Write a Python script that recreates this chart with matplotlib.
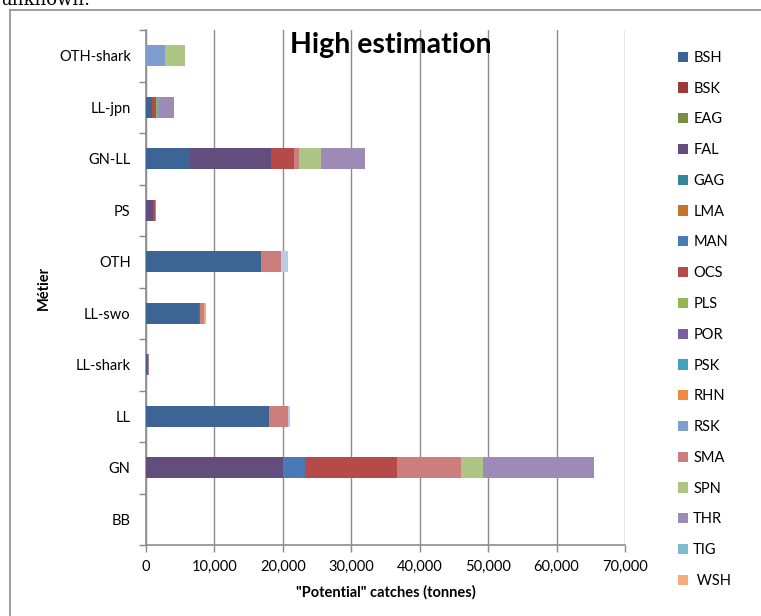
import matplotlib
matplotlib.use("Agg")
import matplotlib.pyplot as plt
from matplotlib.patches import Patch
from matplotlib.lines import Line2D
import numpy as np

categories = ["BB", "GN", "LL", "LL-shark", "LL-swo", "OTH", "PS", "GN-LL", "LL-jpn", "OTH-shark"]
species = ["BSH", "BSK", "EAG", "FAL", "GAG", "LMA", "MAN", "OCS", "PLS", "POR",
           "PSK", "RHN", "RSK", "SMA", "SPN", "THR", "TIG", " WSH"]
colors = ["#3C6595", "#9B3B38", "#7A8E41", "#624D7C", "#338797", "#C6732E", "#4A7AB5", "#B44B48",
          "#95B551", "#7C5FA0", "#43A2BC", "#EC8B3F", "#7E9ECE", "#CB7E7C", "#AEC685", "#9D8AB6",
          "#B9CBE5", "#F7AA7C"]
legend_colors = ["#3C6595", "#9B3B38", "#7A8E41", "#624D7C", "#338797", "#C6732E", "#4A7AB5", "#B44B48",
                 "#95B551", "#7C5FA0", "#43A2BC", "#EC8B3F", "#7E9ECE", "#CB7E7C", "#AEC685", "#9D8AB6",
                 "#7DBBCF", "#F7AA7C"]

# values per species, in category order (BB, GN, LL, LL-shark, LL-swo, OTH, PS, GN-LL, LL-jpn, OTH-shark)
BSH = [0, 0, 18000, 300, 7740, 16800, 0, 6470, 880, 0]
BSK = [0, 0, 0, 0, 0, 0, 0, 0, 0, 0]
EAG = [0, 0, 0, 0, 0, 0, 0, 0, 0, 0]
FAL = [0, 20000, 0, 0, 0, 0, 1060, 11780, 0, 0]
GAG = [0, 0, 0, 0, 0, 0, 0, 0, 0, 0]
LMA = [0, 0, 0, 0, 0, 0, 0, 0, 0, 0]
MAN = [0, 3300, 0, 0, 0, 0, 0, 0, 0, 0]
OCS = [0, 13400, 0, 0, 190, 0, 200, 3350, 540, 0]
PLS = [0, 0, 0, 0, 0, 0, 0, 0, 230, 0]
POR = [0, 0, 0, 0, 0, 0, 0, 0, 0, 0]
PSK = [0, 0, 0, 0, 0, 0, 0, 0, 0, 0]
RHN = [0, 0, 0, 0, 0, 0, 0, 0, 0, 0]
RSK = [0, 0, 0, 0, 0, 0, 0, 0, 200, 2770]
SMA = [0, 9300, 2700, 100, 540, 2900, 150, 690, 0, 0]
SPN = [0, 3300, 0, 0, 0, 0, 0, 3260, 0, 2880]
THR = [0, 16100, 0, 0, 0, 0, 0, 6520, 2190, 0]
TIG = [0, 0, 350, 0, 0, 1050, 0, 0, 0, 0]
WSH = [0, 0, 0, 0, 250, 0, 0, 0, 0, 0]

series = [BSH, BSK, EAG, FAL, GAG, LMA, MAN, OCS, PLS, POR, PSK, RHN, RSK, SMA, SPN, THR, TIG, WSH]

x_ticks = [0, 10000, 20000, 30000, 40000, 50000, 60000, 70000]

plt.rcParams['font.family'] = ['Lato', 'DejaVu Sans']

fig = plt.figure(figsize=(7.61, 6.16), dpi=100)
ax = fig.add_axes([146/761, 1 - 545/616, (625 - 146)/761, (545 - 30)/616])

y = np.arange(len(categories))
left = np.zeros(len(categories))
for name, vals, c in zip(species, series, colors):
    v = np.array(vals, dtype=float)
    ax.barh(y, v, left=left, height=0.4, color=c, edgecolor='none', zorder=3)
    left += v

ax.set_xlim(0, 70000)
ax.set_ylim(-0.5, len(categories) - 0.5)
ax.set_xticks(x_ticks)
ax.set_xticklabels([f"{t:,}" for t in x_ticks], fontsize=10.5)
ax.set_yticks(y)
ax.set_yticklabels(categories, fontsize=10.5)
ax.tick_params(axis='y', which='major', length=0, pad=11)
ax.set_yticks(np.arange(-0.5, len(categories), 1.0), minor=True)
ax.tick_params(axis='y', which='minor', length=5, color='#888888', width=1)
ax.tick_params(axis='x', which='major', length=5, color='#888888', width=1, pad=6)
ax.grid(axis='x', color='#8c8c8c', linewidth=1, zorder=0)
for s in ['top', 'right']:
    ax.spines[s].set_visible(False)
for s in ['left', 'bottom']:
    ax.spines[s].set_color('#8c8c8c')
    ax.spines[s].set_linewidth(1.2)

ax.set_xlabel('"Potential" catches (tonnes)', fontsize=10.5, fontweight='bold', labelpad=8)
ax.set_ylabel('Métier', fontsize=10.5, fontweight='bold', labelpad=6)

fig.text(391/761, 1 - 45/616, 'High estimation', fontsize=20.5, fontweight='bold', ha='center', va='center')

handles = [Patch(facecolor=c, edgecolor='none') for c in legend_colors]
fig.legend(handles, species, loc='upper left', bbox_to_anchor=(672/761, 1 - 45/616),
           frameon=False, fontsize=10.5, handlelength=0.7, handleheight=0.7,
           handletextpad=0.35, labelspacing=1.15, borderaxespad=0)

# chart border
fig.add_artist(Line2D([10/761, 10/761], [0, 1 - 10/616], color='#8c8c8c', linewidth=1.2))
fig.add_artist(Line2D([10/761, 1], [1 - 10/616, 1 - 10/616], color='#8c8c8c', linewidth=1.2))
fig.text(0.0, 1 - 5/616, 'unknown.', family='DejaVu Serif', fontsize=13, va='baseline', ha='left')

fig.savefig('out.png', dpi=100)
